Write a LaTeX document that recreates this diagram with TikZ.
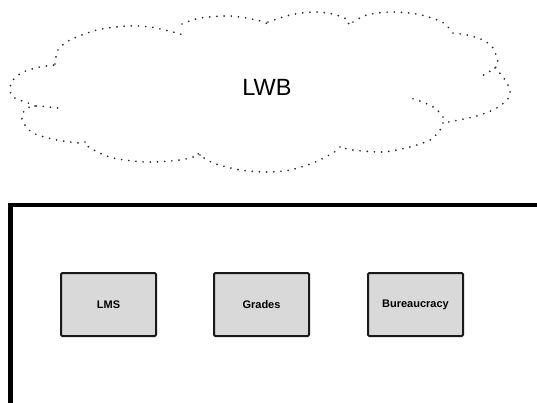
\documentclass[tikz,border=0pt]{standalone}
\usepackage{fontspec}
\setmainfont{Liberation Sans}
\begin{document}
\begin{tikzpicture}[x=1pt,y=-1pt,
  cloudline/.style={line width=1.9pt, line cap=round, dash pattern=on 0pt off 7.2pt, black!85},
  modbox/.style={draw=black!90, line width=2pt, fill=black!15, rounded corners=1.2pt,
    minimum width=95pt, minimum height=63pt, inner sep=0pt,
    font=\fontsize{11}{13}\selectfont\bfseries},
  frame/.style={draw=black, line width=4.8pt}]
\useasboundingbox (0,0) rectangle (537,402);
% cloud lobes
\draw[cloudline] plot[smooth] coordinates {(35,106) (28,103) (13,97) (10,88) (13,80) (23,72) (40,67) (55,65)};
\draw[cloudline] plot[smooth] coordinates {(55,64) (58,50) (70,40) (97,30) (127,26) (150,27) (173,32) (187,36)};
\draw[cloudline] plot[smooth] coordinates {(182,24) (200,18) (230,16) (257,20) (268,24)};
\draw[cloudline] plot[smooth] coordinates {(268,22) (290,15) (313,12) (333,14) (348,20) (348,25)};
\draw[cloudline] plot[smooth] coordinates {(353,22) (367,15) (390,12) (417,14) (440,21) (448,27) (453,33)};
\draw[cloudline] plot[smooth] coordinates {(453,33) (467,35) (483,40) (493,48) (498,62) (495,68) (480,77)};
\draw[cloudline] plot[smooth] coordinates {(495,68) (503,77) (510,90) (507,100) (493,110) (473,117) (443,123)};
\draw[cloudline] plot[smooth] coordinates {(443,117) (435,108) (420,101) (407,97)};
\draw[cloudline] plot[smooth] coordinates {(443,123) (440,130) (430,140) (410,147) (383,152) (353,150) (340,147)};
\draw[cloudline] plot[smooth] coordinates {(340,147) (333,153) (313,163) (290,170) (267,172) (240,170) (213,163) (200,155) (193,150)};
\draw[cloudline] plot[smooth] coordinates {(200,155) (180,160) (147,162) (113,158) (90,148) (85,142)};
\draw[cloudline] plot[smooth] coordinates {(85,142) (80,143) (57,140) (33,133) (22,120) (25,110) (35,106) (58,108)};
\node[font=\fontsize{23.5}{26}\selectfont] (lwb) at (267,87) {LWB};
% frame
\draw[frame] (10.8,205) rectangle (560,420);
% modules
\node[modbox] (lms) at (108.5,304.5) {LMS};
\node[modbox] (grades) at (261.5,304.5) {Grades};
\node[modbox] (bureau) at (415.5,304.5) {Bureaucracy};
\end{tikzpicture}
\end{document}
